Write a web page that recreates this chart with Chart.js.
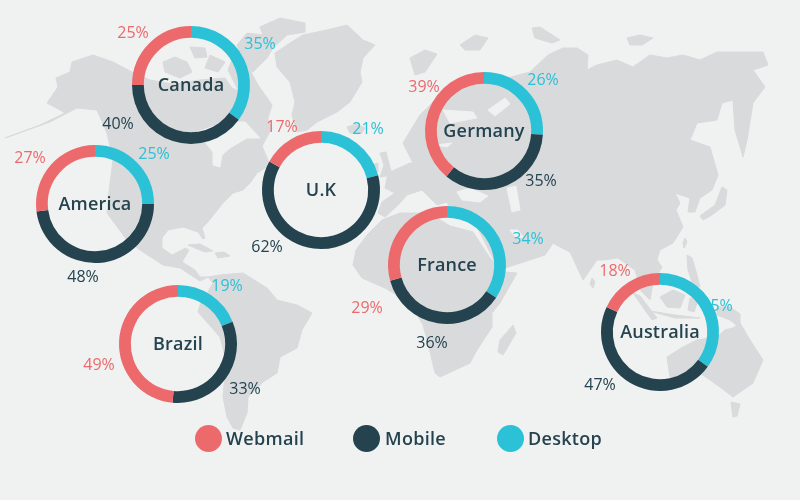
<!DOCTYPE html>
<html>
<head>
<meta charset="utf-8">
<title>Email clients by country</title>
<script src="https://cdn.jsdelivr.net/npm/chart.js@4/dist/chart.umd.min.js"></script>
<style>
  html, body { margin: 0; padding: 0; background: #f0f1f1; }
  #stage { position: relative; width: 800px; height: 500px; overflow: hidden; background: #f0f1f1; }
  #map { position: absolute; left: 0; top: 0; }
  #map polygon { fill: #d9dadc; stroke: #d9dadc; stroke-width: 1; stroke-linejoin: round; }
  #map polygon.sea { fill: #f0f1f1; stroke: #f0f1f1; }
  canvas { position: absolute; }
  .legendDot { position: absolute; top: 425px; width: 27px; height: 27px; border-radius: 50%; }
  .legendText { position: absolute; top: 425px; font: 600 18px "Open Sans"; line-height: 26px; letter-spacing: 0.3px; color: #24434f; }
</style>
</head>
<body>
<div id="stage">
  <svg id="map" width="800" height="500">
    <!-- north america -->
    <polygon points="5,138 40,125 65,113 60,110 47,103 58,87 56,78 70,72 72,62 93,55 113,62 132,72 150,80 172,84 200,80 225,78 232,88 250,96 258,100 266,115 272,128 262,146 270,165 257,173 250,183 243,190 233,193 223,203 207,223 202,228 205,238 203,239 198,232 183,227 168,230 162,238 162,248 172,255 182,250 185,248 189,250 182,262 195,270 200,277 208,277 200,281 180,268 163,265 140,250 127,240 107,213 110,183 113,160 107,133 97,110 77,108 50,122"/>
    <polygon class="sea" points="238,122 245,122 260,138 247,138 230,148 222,155 220,167 213,165 213,152 197,132 217,125"/>
    <!-- caribbean -->
    <polygon points="188,245 200,244 213,251 205,252 195,248"/>
    <polygon points="215,253 224,252 230,256 218,258"/>
    <!-- arctic islands -->
    <polygon points="163,62 175,57 187,62 192,72 180,78 165,72"/>
    <polygon points="190,47 205,48 207,57 195,58"/>
    <polygon points="210,55 225,62 218,72 205,68"/>
    <polygon points="232,60 250,70 258,85 272,105 268,118 250,105 238,90 228,70"/>
    <polygon points="260,27 280,18 305,23 305,32 287,35 273,48 267,58 253,72 243,65 237,45 247,33 263,35"/>
    <!-- greenland, iceland -->
    <polygon points="275,53 290,43 303,35 327,30 347,25 363,40 375,45 363,58 360,72 362,82 350,102 337,112 317,122 307,130 297,132 292,115 295,102 290,82 277,67"/>
    <polygon points="347,127 356,124 365,128 362,133 350,133"/>
    <!-- south america -->
    <polygon points="208,277 220,275 243,273 267,288 277,300 297,305 312,313 302,330 297,348 280,357 277,373 263,382 248,397 247,413 240,430 233,428 227,417 223,397 226,360 220,337 198,312 200,305 213,283"/>
    <!-- eurasia -->
    <polygon points="403,143 420,115 440,95 470,85 500,80 530,72 548,55 563,48 577,48 588,55 587,70 597,65 617,60 633,67 650,55 667,58 683,55 700,60 717,52 740,52 763,52 768,65 753,70 765,87 753,103 747,140 743,157 735,130 733,100 722,103 717,120 697,123 690,140 710,147 718,175 712,190 700,198 695,212 688,212 690,198 675,193 680,203 676,210 683,227 673,243 660,250 657,260 662,267 653,283 650,300 640,290 638,280 635,270 618,258 603,260 597,260 583,280 570,252 560,247 553,243 545,255 505,268 495,262 476,225 470,212 452,212 447,202 437,205 422,190 407,195 398,205 385,217 378,213 382,202 395,193 385,188 388,173 410,163 413,163"/>
    <polygon class="sea" points="443,110 473,112 477,118 450,123"/>
    <polygon class="sea" points="488,110 505,98 510,104 495,116"/>
    <polygon class="sea" points="436,145 452,143 447,147"/>
    <polygon class="sea" points="457,192 470,188 488,196 480,202 462,200"/>
    <polygon class="sea" points="507,188 516,186 520,210 512,212"/>
    <polygon class="sea" points="510,230 518,230 523,237 516,238"/>
    <!-- uk, ireland -->
    <polygon points="380,153 386,152 392,175 380,177 384,165"/>
    <polygon points="371,165 378,163 378,172 371,174"/>
    <!-- africa -->
    <polygon points="382,220 400,213 420,213 437,218 450,226 473,232 490,258 505,272 517,273 500,303 492,313 492,327 477,350 470,363 440,377 435,373 428,343 423,325 410,303 385,288 362,278 353,265 356,250 367,235"/>
    <polygon points="513,325 516,333 503,355 498,352 500,340"/>
    <!-- north polar and small islands -->
    <polygon points="410,58 425,50 437,54 425,72 415,75"/>
    <polygon points="460,45 475,35 488,38 480,50 465,50"/>
    <polygon points="532,28 540,27 560,40 552,43 535,38"/>
    <polygon points="627,38 640,35 653,38 642,45 630,45"/>
    <polygon points="592,278 595,282 593,288 590,284"/>
    <polygon points="685,238 687,242 684,248 683,243"/>
    <!-- japan, sea islands -->
    <polygon points="722,187 727,190 725,205 712,215 703,220 700,216 715,205"/>
    <polygon points="687,255 692,258 697,275 700,287 693,285 688,270"/>
    <polygon points="660,297 673,290 685,295 680,308 667,307"/>
    <polygon points="633,293 640,296 657,318 652,320"/>
    <polygon points="650,311 675,315 700,318 675,318"/>
    <polygon points="690,298 698,300 694,312 688,310"/>
    <polygon points="717,307 730,307 740,314 740,328 730,320 717,315"/>
    <!-- australia, tasmania -->
    <polygon points="667,357 683,347 697,340 717,337 725,330 733,328 740,323 750,340 763,360 753,383 733,397 720,387 700,373 670,377"/>
    <polygon points="731,402 740,404 737,416 733,417"/>
  </svg>
  <canvas id="chart0"></canvas>
  <canvas id="chart1"></canvas>
  <canvas id="chart2"></canvas>
  <canvas id="chart3"></canvas>
  <canvas id="chart4"></canvas>
  <canvas id="chart5"></canvas>
  <canvas id="chart6"></canvas>
</div>
<script>
const countries = ["Canada","America","U.K","Germany","France","Brazil","Australia"]
const segments = ["Desktop","Mobile","Webmail"]
const desktop = [35,25,21,26,34,19,35]
const mobile = [40,48,62,35,36,33,47]
const webmail = [25,27,17,39,29,49,18]
const legendLabels = ["Webmail","Mobile","Desktop"]

const colorDesktop = "#2bc1d6"
const colorMobile = "#24434f"
const colorWebmail = "#ec6a6c"

// ring centres on the page
const centres = [[191,85],[95,204],[321,190],[484,131],[447,265],[178,344],[660,332]]
// where each percent label sits, relative to its ring: desktop, mobile, webmail
const labelSpots = [
    [[69,-42],[-73,38],[-58,-53]],
    [[59,-51],[-12,72],[-65,-47]],
    [[47,-62],[-54,56],[-39,-64]],
    [[59,-52],[57,49],[-60,-45]],
    [[81,-27],[-15,77],[-80,42]],
    [[49,-59],[67,44],[-79,20]],
    [[57,-27],[-60,52],[-45,-62]]
]

const canvasSize = 220
const ringSize = 118

// percent labels go under the ring, the Australia one really is covered in the original
const ringText = {
    id: "ringText",
    beforeDatasetsDraw(chart, args, opts) {
        const ctx = chart.ctx
        const mid = canvasSize / 2
        ctx.save()
        ctx.font = '16px "Open Sans"'
        ctx.textAlign = "center"
        ctx.textBaseline = "middle"
        chart.data.datasets[0].data.forEach(function (v, i) {
            ctx.fillStyle = chart.data.datasets[0].backgroundColor[i]
            ctx.fillText(v + "%", mid + opts.spots[i][0], mid + opts.spots[i][1] + 1)
        })
        ctx.restore()
    },
    afterDraw(chart, args, opts) {
        const ctx = chart.ctx
        ctx.save()
        ctx.font = '600 18px "Open Sans"'
        ctx.letterSpacing = "0.2px"
        ctx.fillStyle = colorMobile
        ctx.textAlign = "center"
        ctx.textBaseline = "middle"
        ctx.fillText(opts.title, canvasSize / 2, canvasSize / 2 + 1)
        ctx.restore()
    }
}

countries.forEach(function (name, i) {
    const canvas = document.getElementById("chart" + i)
    canvas.width = canvasSize
    canvas.height = canvasSize
    canvas.style.left = (centres[i][0] - canvasSize / 2) + "px"
    canvas.style.top = (centres[i][1] - canvasSize / 2) + "px"
    new Chart(canvas, {
        type: "doughnut",
        data: {
            labels: segments,
            datasets: [{
                data: [desktop[i], mobile[i], webmail[i]],
                backgroundColor: [colorDesktop, colorMobile, colorWebmail],
                borderWidth: 0
            }]
        },
        options: {
            responsive: false,
            animation: false,
            cutout: "80%",
            layout: { padding: (canvasSize - ringSize) / 2 },
            plugins: {
                legend: { display: false },
                tooltip: { enabled: false },
                ringText: { title: name, spots: labelSpots[i] }
            }
        },
        plugins: [ringText]
    })
})

// legend row under the map
const legendDots = [195,353,497]
const legendTexts = [226,385,528]
const legendColors = [colorWebmail, colorMobile, colorDesktop]
const stage = document.getElementById("stage")
legendLabels.forEach(function (text, i) {
    const dot = document.createElement("div")
    dot.className = "legendDot"
    dot.style.left = legendDots[i] + "px"
    dot.style.background = legendColors[i]
    stage.appendChild(dot)
    const label = document.createElement("div")
    label.className = "legendText"
    label.style.left = legendTexts[i] + "px"
    label.textContent = text
    stage.appendChild(label)
})
</script>
</body>
</html>
